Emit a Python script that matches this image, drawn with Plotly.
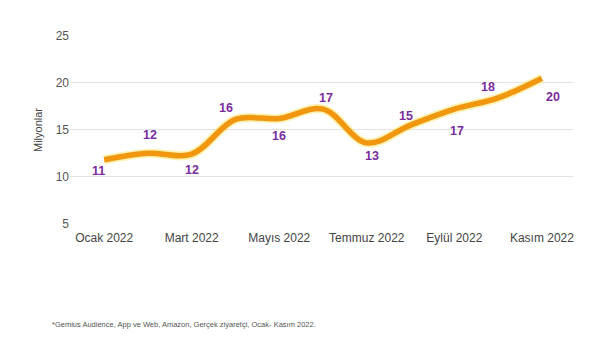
import plotly.graph_objects as go

months = ["Ocak 2022", "Şubat 2022", "Mart 2022", "Nisan 2022", "Mayıs 2022", "Haziran 2022",
          "Temmuz 2022", "Ağustos 2022", "Eylül 2022", "Ekim 2022", "Kasım 2022"]
line_values = [11.8, 12.5, 12.4, 16.1, 16.2, 17.2, 13.6, 15.5, 17.2, 18.4, 20.5]
label_text = ["11", "12", "12", "16", "16", "17", "13", "15", "17", "18", "20"]
tick_idx = [0, 2, 4, 6, 8, 10]
y_ticks = [5, 10, 15, 20, 25]

x = list(range(len(months)))

# label offsets (pixels) – styling only
xshift = [-6, 2, 0, -9, 0, 3, 5, -5, 3, -10, 11]
yshift = [-11, 18, -16, 11, -17, 11, -13, 9, -22, 11, -19]

fig = go.Figure()
fig.add_trace(go.Scatter(x=x, y=line_values, mode="lines",
                         line=dict(color="rgba(255,225,80,0.45)", width=9, shape="spline", smoothing=1.0),
                         hoverinfo="skip", showlegend=False))
fig.add_trace(go.Scatter(x=x, y=line_values, mode="lines",
                         line=dict(color="#F0960F", width=5.5, shape="spline", smoothing=1.0),
                         showlegend=False))

for i, (v, t) in enumerate(zip(line_values, label_text)):
    fig.add_annotation(x=i, y=v, text="<b>" + t + "</b>", showarrow=False, xshift=xshift[i], yshift=yshift[i],
                       font=dict(family="Liberation Sans, Arial", size=12.5, color="#7A2C9E"))

fig.add_annotation(xref="paper", yref="paper", x=-0.04, y=-0.535, xanchor="left", yanchor="middle",
                   text="*Gemius Audience, App ve Web, Amazon, Gerçek ziyaretçi, Ocak- Kasım 2022.",
                   showarrow=False, font=dict(family="Liberation Sans, Arial", size=7.5, color="#555"))

fig.update_layout(
    width=604, height=350,
    margin=dict(l=70, r=31, t=36, b=126),
    plot_bgcolor="white", paper_bgcolor="white",
    font=dict(family="Liberation Sans, Arial", size=12, color="#555"),
)
fig.update_xaxes(range=[-0.78, 10.71], tickvals=tick_idx, ticktext=[months[i] for i in tick_idx],
                 showgrid=False, zeroline=False, showline=False, ticks="", ticklabelstandoff=5,
                 tickfont=dict(size=12, color="#444"))
fig.update_yaxes(range=[4.95, 25], tickvals=y_ticks, showgrid=True, gridcolor="#E3E3E3", gridwidth=1,
                 zeroline=False, showline=False, ticks="", tickfont=dict(size=12, color="#555"),
                 title=dict(text="Milyonlar", font=dict(size=11, color="#444"), standoff=10))

fig.write_html("out.html")
